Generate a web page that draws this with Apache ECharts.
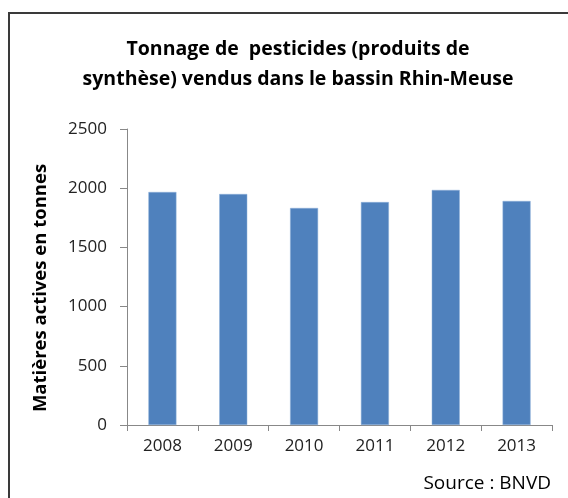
<!DOCTYPE html>
<html>
<head>
<meta charset="utf-8">
<script src="https://cdn.jsdelivr.net/npm/echarts@6/dist/echarts.min.js"></script>
<style>
  html, body { margin: 0; padding: 0; background: #fff; }
  #chart { width: 568px; height: 498px; }
</style>
</head>
<body>
<div id="chart"></div>
<script>
// data
const years = ['2008', '2009', '2010', '2011', '2012', '2013']
const tonnage = [1968, 1951, 1833, 1883, 1985, 1892]
const yTicks = [0, 500, 1000, 1500, 2000, 2500]

const font = '"Open Sans", "DejaVu Sans", sans-serif'
const chart = echarts.init(document.getElementById('chart'))

chart.setOption({
  animation: false,
  title: {
    text: 'Tonnage de  pesticides (produits de\nsynthèse) vendus dans le bassin Rhin-Meuse',
    left: 293,
    textAlign: 'center',
    top: 29,
    textStyle: { fontFamily: font, fontSize: 19.5, fontWeight: 'bold', color: '#000', lineHeight: 30 }
  },
  graphic: [
    {
      type: 'rect',
      shape: { x: 9, y: 13, width: 580, height: 500 },
      style: { fill: 'none', stroke: '#3a3a3a', lineWidth: 2 }
    },
    {
      type: 'text',
      right: 17,
      top: 474,
      style: { text: 'Source : BNVD', font: '19px ' + font, fill: '#000' }
    }
  ],
  grid: { left: 127, right: 16, top: 129, bottom: 73 },
  xAxis: {
    type: 'category',
    data: years,
    axisLine: { lineStyle: { color: '#888', width: 1 } },
    axisTick: { show: true, length: 6, lineStyle: { color: '#888' } },
    axisLabel: { color: '#222', fontFamily: font, fontSize: 17, margin: 13 }
  },
  yAxis: {
    type: 'value',
    min: yTicks[0],
    max: yTicks[yTicks.length - 1],
    interval: 500,
    name: 'Matières actives en tonnes',
    nameLocation: 'middle',
    nameGap: 77,
    nameTextStyle: { fontFamily: font, fontSize: 18.5, fontWeight: 'bold', color: '#000', padding: [0, 22, 0, 0] },
    axisLine: { show: true, lineStyle: { color: '#888', width: 1 } },
    axisTick: { show: true, inside: false, length: 7, lineStyle: { color: '#888' } },
    axisLabel: { color: '#222', fontFamily: font, fontSize: 17, margin: 20, formatter: v => String(v) },
    splitLine: { show: false }
  },
  series: [
    {
      type: 'bar',
      data: tonnage,
      barWidth: 28,
      itemStyle: { color: '#4f81bd', borderColor: '#8eb0db', borderWidth: 0.5 }
    }
  ]
})
</script>
</body>
</html>
